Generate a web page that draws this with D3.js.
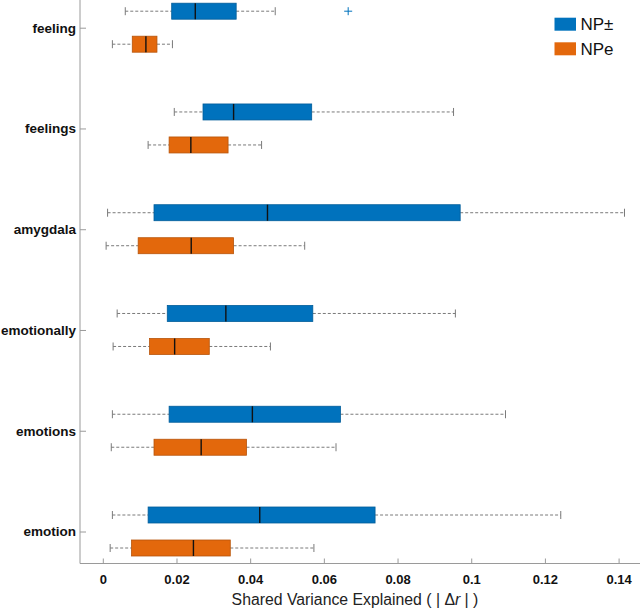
<!DOCTYPE html>
<html><head><meta charset="utf-8">
<script src="https://cdn.jsdelivr.net/npm/d3@7"></script>
<style>body{margin:0;background:#fff}svg{display:block}</style>
</head><body>
<svg id="c" width="640" height="608"></svg>
<script>
const categories = ["feeling","feelings","amygdala","emotionally","emotions","emotion"];
const seriesNames = ["NP±","NPe"];
// [low whisker, q1, median, q3, high whisker]
const npPM = [
  [0.0061,0.0187,0.0251,0.0362,0.0468],
  [0.0194,0.0272,0.0355,0.0567,0.0952],
  [0.0013,0.0139,0.0447,0.0970,0.1416],
  [0.0039,0.0175,0.0334,0.0570,0.0957],
  [0.0026,0.0180,0.0406,0.0645,0.1093],
  [0.0026,0.0123,0.0426,0.0739,0.1243]
];
const npE = [
  [0.0026,0.0080,0.0117,0.0147,0.0189],
  [0.0123,0.0180,0.0239,0.0340,0.0431],
  [0.0009,0.0096,0.0240,0.0355,0.0548],
  [0.0028,0.0127,0.0195,0.0289,0.0455],
  [0.0023,0.0139,0.0267,0.0390,0.0633],
  [0.0020,0.0078,0.0246,0.0346,0.0573]
];
const outliers = [{cat:"feeling", series:0, value:0.0666}];
const xTicks = [0,0.02,0.04,0.06,0.08,0.1,0.12,0.14];
const colors = ["#0072BD","#E3680C"];

const svg = d3.select("#c");
const x = d3.scaleLinear().domain([0,0.14]).range([102.8,618.6]);
const y = d3.scalePoint().domain(categories).range([27.7,531.5]);
const axisY = 563.5, axisX = 80;
const off = [-16.5, 16.5], bh = 16;

// axes
svg.append("line").attr("x1",axisX).attr("x2",640).attr("y1",axisY).attr("y2",axisY).attr("stroke","#9a9a9a").attr("stroke-width",1);
svg.append("line").attr("x1",axisX).attr("x2",axisX).attr("y1",0).attr("y2",axisY).attr("stroke","#9a9a9a").attr("stroke-width",1);

const xa = svg.append("g").attr("transform",`translate(0,${axisY})`)
  .call(d3.axisBottom(x).tickValues(xTicks).tickSize(-5).tickPadding(9).tickFormat(d=>String(d)));
xa.select(".domain").remove();
xa.selectAll("line").attr("stroke","#9a9a9a");
xa.selectAll("text").attr("font-family","Liberation Sans, Arial, sans-serif").attr("font-weight","bold").attr("font-size","13px").attr("fill","#111").attr("dy","0.9em");

const ya = svg.append("g").attr("transform",`translate(${axisX},0)`)
  .call(d3.axisLeft(y).tickSize(-6).tickPadding(4));
ya.select(".domain").remove();
ya.selectAll("line").attr("stroke","#9a9a9a");
ya.selectAll("text").attr("font-family","Liberation Sans, Arial, sans-serif").attr("font-weight","bold").attr("font-size","13.5px").attr("fill","#111");

// boxes
[npPM, npE].forEach((data, s) => {
  const g = svg.append("g");
  data.forEach((d, i) => {
    const cy = y(categories[i]) + off[s];
    const [lo,q1,md,q3,hi] = d;
    g.append("line").attr("x1",x(lo)).attr("x2",x(q1)).attr("y1",cy).attr("y2",cy)
      .attr("stroke","#7a7a7a").attr("stroke-dasharray","3,2").attr("stroke-width",1);
    g.append("line").attr("x1",x(q3)).attr("x2",x(hi)).attr("y1",cy).attr("y2",cy)
      .attr("stroke","#7a7a7a").attr("stroke-dasharray","3,2").attr("stroke-width",1);
    [lo,hi].forEach(v => g.append("line").attr("x1",x(v)).attr("x2",x(v)).attr("y1",cy-4).attr("y2",cy+4)
      .attr("stroke","#7a7a7a").attr("stroke-width",1));
    g.append("rect").attr("x",x(q1)).attr("y",cy-bh/2).attr("width",x(q3)-x(q1)).attr("height",bh)
      .attr("fill",colors[s]).attr("stroke",d3.color(colors[s]).darker(0.6)).attr("stroke-width",0.8);
    g.append("line").attr("x1",x(md)).attr("x2",x(md)).attr("y1",cy-bh/2).attr("y2",cy+bh/2)
      .attr("stroke","#111").attr("stroke-width",1.4);
  });
});

// outliers
outliers.forEach(o => {
  const cx = x(o.value), cy = y(o.cat) + off[o.series];
  svg.append("path").attr("d",`M${cx-4},${cy}H${cx+4}M${cx},${cy-4}V${cy+4}`)
    .attr("stroke",colors[o.series]).attr("stroke-width",1).attr("fill","none");
});

// legend
seriesNames.forEach((n,i) => {
  const ly = 17.7 + i*24.6;
  svg.append("rect").attr("x",554.5).attr("y",ly).attr("width",21.5).attr("height",13).attr("fill",colors[i]);
  svg.append("text").attr("x",580.5).attr("y",ly+6.5).attr("dy","0.35em")
    .attr("font-family","Liberation Sans, Arial, sans-serif").attr("font-size","17px").attr("fill","#111").text(n);
});

// x label
const xl = svg.append("text").attr("x",355).attr("y",599).attr("dy","0.35em").attr("text-anchor","middle")
  .attr("font-family","Liberation Sans, Arial, sans-serif").attr("font-size","15.8px").attr("fill","#222");
xl.append("tspan").text("Shared Variance Explained ( | Δ");
xl.append("tspan").attr("font-style","italic").text("r");
xl.append("tspan").text(" | )");
</script>
</body></html>
